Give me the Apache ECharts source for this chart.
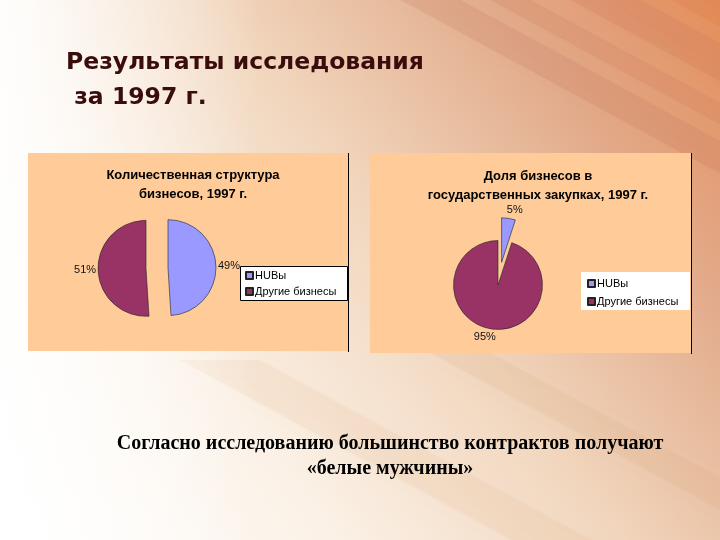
<!DOCTYPE html>
<html>
<head>
<meta charset="utf-8">
<script src="https://cdn.jsdelivr.net/npm/echarts@6/dist/echarts.min.js"></script>
<style>
html,body{margin:0;padding:0;width:720px;height:540px;overflow:hidden;background:#fff;}
#c{width:720px;height:540px;}
</style>
</head>
<body>
<div id="c"></div>
<script>
// ---- data ----
var categories = ['HUBы', 'Другие бизнесы'];
var shareCount = [49, 51];        // Количественная структура бизнесов, 1997 г.
var shareProcurement = [5, 95];   // Доля бизнесов в государственных закупках, 1997 г.
var chart1Title = 'Количественная структура\nбизнесов, 1997 г.';
var chart2Title = 'Доля бизнесов в\nгосударственных закупках, 1997 г.';
var slideTitle = 'Результаты исследования\n за 1997 г.';
var caption = 'Согласно исследованию большинство контрактов получают\n«белые мужчины»';

var colors = ['#9999FF', '#993366'];

function buildData(vals, explodeFlags) {
  return categories.map(function (n, i) {
    return { name: n, value: vals[i], selected: explodeFlags[i] };
  });
}

var chart = echarts.init(document.getElementById('c'), null, { renderer: 'canvas' });

var streaks = [];
var streakDefs = [
  [290, -60, 60, 'rgba(185,105,80,0.16)'],
  [380, -60, 40, 'rgba(195,115,85,0.18)'],
  [460, -60, 70, 'rgba(185,100,75,0.15)'],
  [560, -60, 50, 'rgba(215,120,65,0.20)'],
  [640, -60, 60, 'rgba(225,120,60,0.25)'],
  [180, 360, 80, 'rgba(225,175,125,0.14)'],
  [370, 320, 60, 'rgba(215,160,120,0.14)']
];
streakDefs.forEach(function (s) {
  streaks.push({
    type: 'polygon', silent: true,
    shape: { points: [[s[0], s[1]], [s[0] + s[2], s[1]], [s[0] + s[2] + 700, s[1] + 380], [s[0] + 700, s[1] + 380]] },
    style: { fill: s[3], shadowBlur: 25, shadowColor: s[3] }
  });
});

var labelFont = 'Liberation Sans, Arial, sans-serif';

var option = {
  backgroundColor: '#fff',
  animation: false,
  color: colors,
  graphic: [
    {
      type: 'rect', silent: true, z: -10,
      shape: { x: 0, y: 0, width: 720, height: 540 },
      style: {
        fill: new echarts.graphic.LinearGradient(0, 1, 1, 0, [
          { offset: 0, color: '#ffffff' },
          { offset: 0.3, color: '#fbf1e6' },
          { offset: 0.55, color: '#f1d6bd' },
          { offset: 0.8, color: '#e2aa8a' },
          { offset: 1, color: '#e58e5a' }
        ])
      }
    }
  ].concat(streaks.map(function (g) { g.z = -9; return g; })).concat([
    {
      type: 'rect', silent: true, z: -5,
      shape: { x: 0, y: 0, width: 260, height: 540 },
      style: {
        fill: new echarts.graphic.LinearGradient(0, 0, 1, 0, [
          { offset: 0, color: 'rgba(255,255,255,0.92)' },
          { offset: 1, color: 'rgba(255,255,255,0)' }
        ])
      }
    },
    // chart panels
    { type: 'rect', silent: true, z: -1, shape: { x: 28, y: 153, width: 320, height: 198 }, style: { fill: '#FFCC99' } },
    { type: 'line', silent: true, z: -1, shape: { x1: 348.5, y1: 153, x2: 348.5, y2: 352 }, style: { stroke: '#000', lineWidth: 1 } },
    { type: 'rect', silent: true, z: -1, shape: { x: 370, y: 153, width: 321, height: 200 }, style: { fill: '#FFCC99' } },
    { type: 'line', silent: true, z: -1, shape: { x1: 691.5, y1: 153, x2: 691.5, y2: 354 }, style: { stroke: '#000', lineWidth: 1 } },
    // legend boxes
    { type: 'rect', silent: true, z: 0, shape: { x: 240.5, y: 266.5, width: 107, height: 34 }, style: { fill: '#fff', stroke: '#000', lineWidth: 1 } },
    { type: 'rect', silent: true, z: 0, shape: { x: 581, y: 272, width: 109, height: 38 }, style: { fill: '#fff' } },
    // slide title
    {
      type: 'text', left: 66, top: 45, silent: true,
      style: { text: slideTitle, font: 'bold 23.5px "DejaVu Sans", sans-serif', fill: '#3a0c0c', lineHeight: 35 }
    },
    // caption
    {
      type: 'text', silent: true, x: 390, y: 431,
      style: { text: caption, textAlign: 'center', font: 'bold 20px "Liberation Serif", "Times New Roman", serif', fill: '#000', lineHeight: 25 }
    }
  ]),
  title: [
    {
      text: chart1Title, left: 188, top: 161, textAlign: 'center',
      textStyle: { fontFamily: labelFont, fontWeight: 'bold', fontSize: 13, lineHeight: 19, color: '#000' }
    },
    {
      text: chart2Title, left: 533, top: 162, textAlign: 'center',
      textStyle: { fontFamily: labelFont, fontWeight: 'bold', fontSize: 13, lineHeight: 19, color: '#000' }
    }
  ],
  legend: [
    {
      seriesIndex: 0, orient: 'vertical', left: 243, top: 268, itemWidth: 7, itemHeight: 7, itemGap: 5,
      icon: 'rect', selectedMode: false, padding: 2,
      textStyle: { fontFamily: labelFont, fontSize: 11, color: '#000', padding: [0, 0, 0, -3] },
      data: categories
    },
    {
      seriesIndex: 1, orient: 'vertical', left: 585, top: 276, itemWidth: 7, itemHeight: 7, itemGap: 7,
      icon: 'rect', selectedMode: false, padding: 2,
      textStyle: { fontFamily: labelFont, fontSize: 11, color: '#000', padding: [0, 0, 0, -3] },
      data: categories
    }
  ],
  series: [
    {
      type: 'pie', name: 'Количественная структура',
      center: [157, 268], radius: 48, startAngle: 90, clockwise: true,
      selectedMode: 'multiple', selectedOffset: 11,
      avoidLabelOverlap: false,
      itemStyle: { borderColor: '#222', borderWidth: 0.6 },
      label: { show: true, position: 'outside', formatter: '{c}%', fontSize: 11, color: '#111', fontFamily: labelFont },
      labelLine: { show: false, length: 8, length2: 0 },
      labelLayout: { align: 'center' },
      emphasis: { disabled: true },
      data: buildData(shareCount, [true, true])
    },
    {
      type: 'pie', name: 'Доля в закупках',
      center: [498, 285], radius: 44.5, startAngle: 90, clockwise: true,
      selectedMode: 'multiple', selectedOffset: 23,
      avoidLabelOverlap: false,
      itemStyle: { borderColor: '#222', borderWidth: 0.6 },
      label: { show: true, position: 'outside', formatter: '{c}%', fontSize: 11, color: '#111', fontFamily: labelFont },
      labelLine: { show: false, length: 8, length2: 0 },
      labelLayout: { align: 'center' },
      emphasis: { disabled: true },
      data: buildData(shareProcurement, [true, false])
    }
  ]
};
chart.setOption(option);
</script>
</body>
</html>
